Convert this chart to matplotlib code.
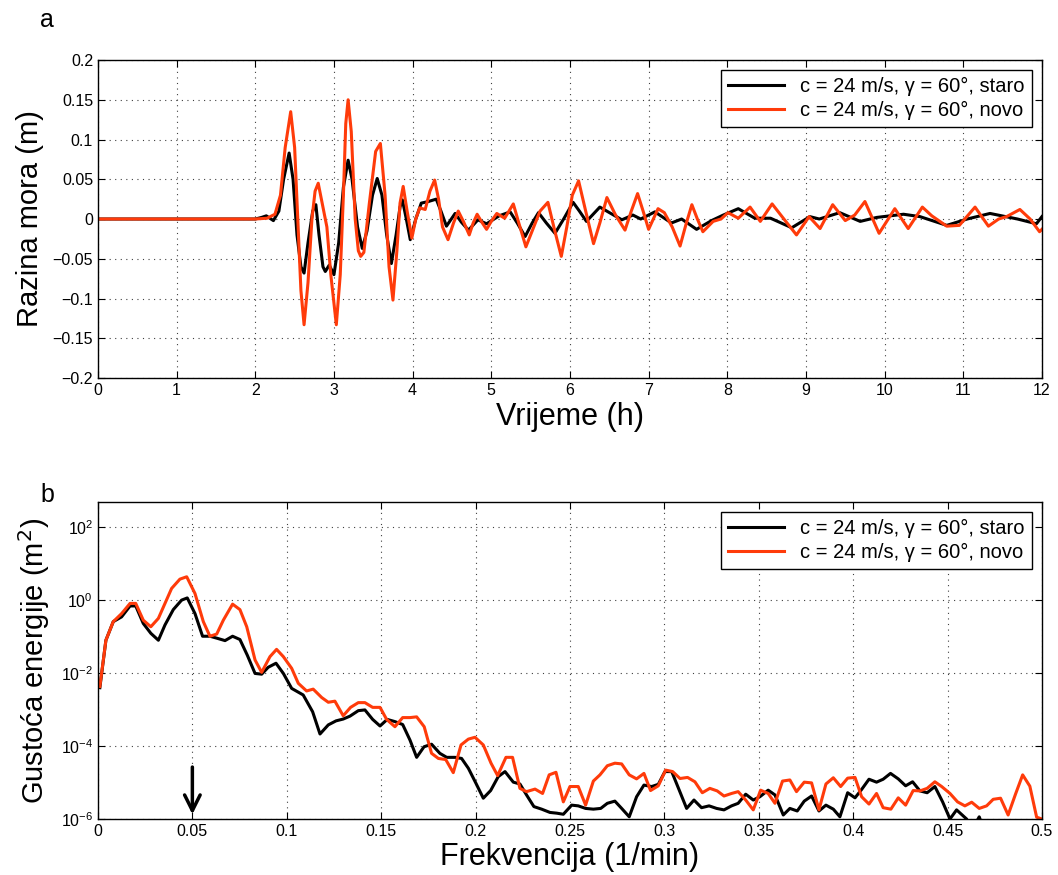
import numpy as np
import matplotlib
matplotlib.use('Agg')
import matplotlib.pyplot as plt

plt.rcParams['font.family'] = ['Liberation Sans', 'DejaVu Sans']

# ---- panel a: sea level time series ----
t_old = [0, 2.0, 2.08, 2.14, 2.23, 2.30, 2.36, 2.43, 2.48, 2.53, 2.58, 2.62, 2.67, 2.73, 2.77,
         2.81, 2.86, 2.89, 2.94, 3.00, 3.06, 3.12, 3.18, 3.23, 3.30, 3.36, 3.42, 3.49, 3.55,
         3.61, 3.67, 3.73, 3.79, 3.84, 3.87, 3.92, 3.97, 4.04, 4.11, 4.20, 4.30, 4.36, 4.43,
         4.54, 4.62, 4.71, 4.83, 4.94, 5.10, 5.24, 5.33, 5.43, 5.52, 5.60, 5.70, 5.81, 5.92,
         6.04, 6.12, 6.21, 6.38, 6.52, 6.66, 6.80, 6.90, 7.08, 7.29, 7.42, 7.61, 7.80, 7.95,
         8.14, 8.35, 8.55, 8.82, 9.05, 9.17, 9.43, 9.69, 9.90, 10.24, 10.45, 10.79, 11.05,
         11.34, 11.69, 11.93, 12.0]
h_old = [0, 0, 0.002, 0.004, -0.002, 0.01, 0.05, 0.083, 0.05, -0.02, -0.06, -0.068, -0.03,
         0.01, 0.018, -0.02, -0.06, -0.066, -0.058, -0.07, -0.03, 0.04, 0.074, 0.05, -0.01,
         -0.037, -0.015, 0.03, 0.051, 0.03, -0.02, -0.056, -0.02, 0.015, 0.024, 0.0, -0.026,
         0.0, 0.02, 0.022, 0.025, 0.01, -0.009, 0.007, -0.004, -0.014, -0.001, -0.006, 0.004,
         0.009, -0.005, -0.022, -0.005, 0.008, -0.005, -0.018, 0.0, 0.021, 0.01, -0.003,
         0.015, 0.007, -0.001, 0.005, 0.0, 0.009, -0.005, 0.0, -0.013, -0.002, 0.005, 0.013,
         0.001, 0.001, -0.011, 0.003, 0.0, 0.008, -0.003, 0.002, 0.006, 0.003, -0.008, 0.0,
         0.007, 0.0, -0.006, 0.003]

t_new = [0, 2.0, 2.15, 2.25, 2.32, 2.38, 2.45, 2.50, 2.54, 2.58, 2.62, 2.67, 2.72, 2.76,
         2.80, 2.85, 2.91, 2.96, 3.03, 3.08, 3.12, 3.15, 3.18, 3.22, 3.27, 3.31, 3.34, 3.38,
         3.45, 3.53, 3.59, 3.65, 3.70, 3.75, 3.80, 3.84, 3.88, 3.93, 3.99, 4.04, 4.09, 4.16,
         4.22, 4.28, 4.33, 4.38, 4.45, 4.52, 4.58, 4.65, 4.72, 4.77, 4.82, 4.88, 4.94, 5.0,
         5.07, 5.17, 5.28, 5.35, 5.44, 5.52, 5.62, 5.72, 5.80, 5.89, 5.96, 6.03, 6.11, 6.20,
         6.30, 6.38, 6.47, 6.58, 6.70, 6.78, 6.86, 6.93, 7.0, 7.12, 7.20, 7.30, 7.40, 7.48,
         7.55, 7.62, 7.69, 7.82, 7.92, 8.01, 8.14, 8.29, 8.42, 8.57, 8.72, 8.88, 9.04, 9.18,
         9.34, 9.50, 9.62, 9.75, 9.93, 10.13, 10.30, 10.48, 10.60, 10.79, 10.95, 11.15, 11.32,
         11.45, 11.55, 11.72, 11.85, 11.97, 12.0]
h_new = [0, 0, 0.001, 0.006, 0.03, 0.09, 0.135, 0.09, 0.0, -0.09, -0.133, -0.08, 0.0, 0.035,
         0.045, 0.02, -0.01, -0.07, -0.133, -0.07, 0.03, 0.12, 0.15, 0.11, 0.0, -0.04, -0.047,
         -0.042, 0.02, 0.085, 0.095, 0.03, -0.06, -0.102, -0.04, 0.02, 0.041, 0.01, -0.024,
         0.0, 0.014, 0.012, 0.035, 0.049, 0.025, -0.01, -0.026, -0.005, 0.010, -0.004, -0.020,
         -0.005, 0.006, -0.004, -0.013, -0.003, 0.007, 0.001, 0.019, -0.005, -0.035, -0.015,
         0.01, 0.021, -0.012, -0.047, -0.01, 0.03, 0.048, 0.01, -0.031, -0.005, 0.027, 0.005,
         -0.014, 0.01, 0.032, 0.01, -0.013, 0.013, 0.008, -0.01, -0.034, -0.005, 0.018, 0.0,
         -0.016, -0.003, 0.0, 0.008, 0.001, 0.015, -0.003, 0.019, 0.0, -0.020, 0.003, -0.012,
         0.018, -0.002, 0.005, 0.022, -0.018, 0.013, -0.012, 0.015, 0.004, -0.009, -0.008,
         0.015, -0.009, 0.0, 0.003, 0.012, 0.0, -0.016, -0.013]

# ---- panel b: energy spectra (log10 of density) ----
f_old = [0.001, 0.0042, 0.0081, 0.0125, 0.017, 0.020, 0.024, 0.028, 0.032, 0.0355, 0.0399,
         0.0443, 0.0473, 0.0514, 0.0554, 0.0593, 0.0634, 0.0673, 0.0713, 0.0752, 0.0791,
         0.0832, 0.0867, 0.0902, 0.0943, 0.0982, 0.1026, 0.1087, 0.1137, 0.1176, 0.122,
         0.1261, 0.1299, 0.1335, 0.1379, 0.1414, 0.1455, 0.1494, 0.1532, 0.1573, 0.1614,
         0.1653, 0.1688, 0.1727, 0.1767, 0.1811, 0.1847, 0.1891, 0.1926, 0.1962, 0.2002,
         0.2041, 0.208, 0.212, 0.2156, 0.22, 0.2235, 0.227, 0.2309, 0.235, 0.2394, 0.243,
         0.2465, 0.2509, 0.2544, 0.2583, 0.2624, 0.2663, 0.2698, 0.2738, 0.2774, 0.2814,
         0.2853, 0.2892, 0.2933, 0.2968, 0.3003, 0.3039, 0.3079, 0.3118, 0.3157, 0.3197,
         0.3237, 0.3277, 0.3316, 0.3356, 0.3391, 0.3431, 0.3471, 0.3506, 0.355, 0.3586,
         0.363, 0.3665, 0.3704, 0.3741, 0.378, 0.3819, 0.3856, 0.3895, 0.393, 0.3971, 0.401,
         0.4045, 0.4084, 0.4124, 0.4159, 0.4198, 0.4239, 0.4278, 0.4315, 0.4354, 0.4392,
         0.4433, 0.4474, 0.4513, 0.4548, 0.4601, 0.463, 0.4668, 0.47, 0.48, 0.5]
e_old = [-2.40, -1.10, -0.59, -0.46, -0.16, -0.16, -0.64, -0.91, -1.10, -0.68, -0.26, 0.0,
         0.06, -0.37, -0.99, -0.99, -1.05, -1.11, -0.99, -1.08, -1.51, -2.01, -2.03, -1.84,
         -1.73, -2.01, -2.42, -2.60, -3.06, -3.67, -3.42, -3.31, -3.26, -3.18, -3.03, -3.01,
         -3.27, -3.45, -3.27, -3.33, -3.41, -3.84, -4.31, -4.02, -3.95, -4.20, -4.31, -4.31,
         -4.34, -4.61, -5.02, -5.43, -5.22, -4.84, -4.70, -4.99, -5.04, -5.34, -5.66, -5.73,
         -5.82, -5.84, -5.87, -5.62, -5.64, -5.71, -5.73, -5.71, -5.57, -5.51, -5.71, -5.94,
         -5.39, -5.07, -5.11, -5.05, -4.70, -4.70, -5.21, -5.71, -5.48, -5.69, -5.64, -5.71,
         -5.75, -5.64, -5.57, -5.32, -5.48, -5.39, -5.21, -5.34, -5.89, -5.71, -5.78, -5.51,
         -5.37, -5.78, -5.62, -5.73, -5.94, -5.28, -5.42, -5.19, -4.91, -4.99, -4.91, -4.75,
         -4.90, -5.09, -4.98, -5.23, -5.28, -5.11, -5.53, -6.0, -5.75, -6.0, -6.3, -5.94,
         -6.4, -6.6, -6.8]

f_new = [0.001, 0.0042, 0.0081, 0.0125, 0.017, 0.020, 0.024, 0.028, 0.032, 0.039, 0.0434,
         0.047, 0.0514, 0.0558, 0.0593, 0.0629, 0.0664, 0.0713, 0.0752, 0.0788, 0.0832,
         0.0867, 0.0911, 0.0946, 0.0982, 0.1026, 0.1061, 0.1105, 0.114, 0.1185, 0.122, 0.1255,
         0.1299, 0.1338, 0.1379, 0.1414, 0.1455, 0.1494, 0.1529, 0.1573, 0.1614, 0.1653,
         0.1688, 0.1728, 0.1767, 0.1803, 0.1842, 0.1882, 0.1923, 0.1962, 0.1997, 0.2041,
         0.2082, 0.2117, 0.2161, 0.2196, 0.2235, 0.227, 0.2315, 0.2355, 0.239, 0.2426, 0.2465,
         0.25, 0.2544, 0.2583, 0.2624, 0.2659, 0.2698, 0.2738, 0.2774, 0.2814, 0.2853, 0.2892,
         0.2927, 0.2968, 0.3007, 0.3044, 0.3083, 0.3123, 0.3162, 0.3201, 0.3241, 0.328,
         0.3316, 0.3356, 0.3391, 0.3431, 0.3471, 0.351, 0.355, 0.3586, 0.3626, 0.3665, 0.37,
         0.3741, 0.378, 0.3819, 0.3856, 0.3895, 0.3934, 0.3971, 0.401, 0.4045, 0.4084, 0.4124,
         0.4159, 0.42, 0.4239, 0.4278, 0.4318, 0.4354, 0.4392, 0.4433, 0.4469, 0.4513, 0.4553,
         0.4592, 0.4628, 0.4668, 0.4707, 0.4742, 0.4781, 0.4821, 0.486, 0.4898, 0.4936,
         0.4972, 0.5]
e_new = [-2.37, -1.10, -0.59, -0.37, -0.09, -0.09, -0.55, -0.73, -0.50, 0.32, 0.575, 0.64,
         0.18, -0.59, -0.99, -0.93, -0.55, -0.11, -0.26, -0.73, -1.64, -1.98, -1.55, -1.35,
         -1.55, -1.87, -2.28, -2.49, -2.44, -2.67, -2.80, -2.77, -3.17, -2.94, -2.81, -2.81,
         -2.94, -2.94, -3.27, -3.47, -3.22, -3.22, -3.20, -3.47, -4.20, -4.34, -4.37, -4.73,
         -3.97, -3.81, -3.76, -3.97, -4.47, -4.81, -4.31, -4.31, -5.16, -5.25, -5.18, -5.30,
         -4.79, -4.72, -5.53, -5.11, -5.11, -5.62, -4.96, -4.79, -4.54, -4.47, -4.49, -4.79,
         -4.90, -4.75, -5.22, -5.09, -4.66, -4.70, -4.89, -4.86, -4.98, -5.28, -5.16, -5.23,
         -5.37, -5.30, -5.25, -5.48, -5.75, -5.21, -5.30, -5.57, -4.96, -4.93, -5.25, -4.99,
         -5.01, -5.75, -5.04, -4.87, -5.11, -4.88, -4.86, -5.39, -5.59, -5.30, -5.69, -5.73,
         -5.42, -5.62, -5.22, -5.23, -5.16, -4.98, -5.11, -5.30, -5.53, -5.64, -5.54, -5.71,
         -5.64, -5.46, -5.43, -5.89, -5.32, -4.79, -5.10, -5.95, -6.0]

label_old = 'c = 24 m/s, γ = 60°, staro'
label_new = 'c = 24 m/s, γ = 60°, novo'
c_old = 'black'
c_new = '#ff3b0a'

fig = plt.figure(figsize=(10.58, 8.75), dpi=100)
ax1 = fig.add_axes([0.0926, 0.568, 0.8922, 0.3634])
ax2 = fig.add_axes([0.0926, 0.064, 0.8922, 0.3623])


def matlab_style(ax):
    ax.tick_params(direction='in', top=True, right=True, labelsize=11.5, length=5, width=0.8)
    ax.tick_params(which='minor', length=0)
    ax.grid(True, linestyle=(0, (1, 4)), color='0.25', linewidth=0.8)
    for s in ax.spines.values():
        s.set_linewidth(1.0)


def add_legend(ax):
    leg = ax.legend(loc='upper right', fontsize=14.5, fancybox=False, edgecolor='black',
                    framealpha=1, handlelength=2.8, borderaxespad=0.5, labelspacing=0.25,
                    borderpad=0.35)
    leg.get_frame().set_linewidth(1.0)


ax1.plot(t_old, h_old, color=c_old, lw=2.2, solid_joinstyle='round', label=label_old)
ax1.plot(t_new, h_new, color=c_new, lw=2.2, solid_joinstyle='round', label=label_new)
ax1.set_xlim(0, 12)
ax1.set_ylim(-0.2, 0.2)
ax1.set_xticks(range(13))
yt = [-0.2, -0.15, -0.1, -0.05, 0, 0.05, 0.1, 0.15, 0.2]
ax1.set_yticks(yt)
ax1.set_yticklabels(['\u22120.2', '\u22120.15', '\u22120.1', '\u22120.05', '0', '0.05', '0.1', '0.15', '0.2'])
ax1.set_xlabel('Vrijeme (h)', fontsize=22, labelpad=3)
ax1.set_ylabel('Razina mora (m)', fontsize=21, labelpad=6)
matlab_style(ax1)
add_legend(ax1)

ax2.semilogy(f_old, [10 ** e for e in e_old], color=c_old, lw=2.2, solid_joinstyle='round', label=label_old)
ax2.semilogy(f_new, [10 ** e for e in e_new], color=c_new, lw=2.2, solid_joinstyle='round', label=label_new)
ax2.set_xlim(0, 0.5)
ax2.set_ylim(1e-6, 10 ** 2.69)
xt = [0, 0.05, 0.1, 0.15, 0.2, 0.25, 0.3, 0.35, 0.4, 0.45, 0.5]
ax2.set_xticks(xt)
ax2.set_xticklabels(['0', '0.05', '0.1', '0.15', '0.2', '0.25', '0.3', '0.35', '0.4', '0.45', '0.5'])
ax2.set_yticks([1e-6, 1e-4, 1e-2, 1e0, 1e2])
ax2.minorticks_off()
ax2.set_xlabel('Frekvencija (1/min)', fontsize=22, labelpad=2)
ax2.set_ylabel('Gustoća energije (m$^2$)', fontsize=21, labelpad=6)
matlab_style(ax2)
add_legend(ax2)

ax2.annotate('', xy=(0.05, 10 ** -5.95), xytext=(0.05, 10 ** -4.5),
             arrowprops=dict(arrowstyle='->', lw=2.5, color='black', mutation_scale=28))

fig.text(47 / 1058, 1 - 20 / 875, 'a', fontsize=18, ha='center', va='center')
fig.text(47 / 1058, 1 - 495 / 875, 'b', fontsize=18, ha='center', va='center')

fig.savefig('out.png', dpi=100)
